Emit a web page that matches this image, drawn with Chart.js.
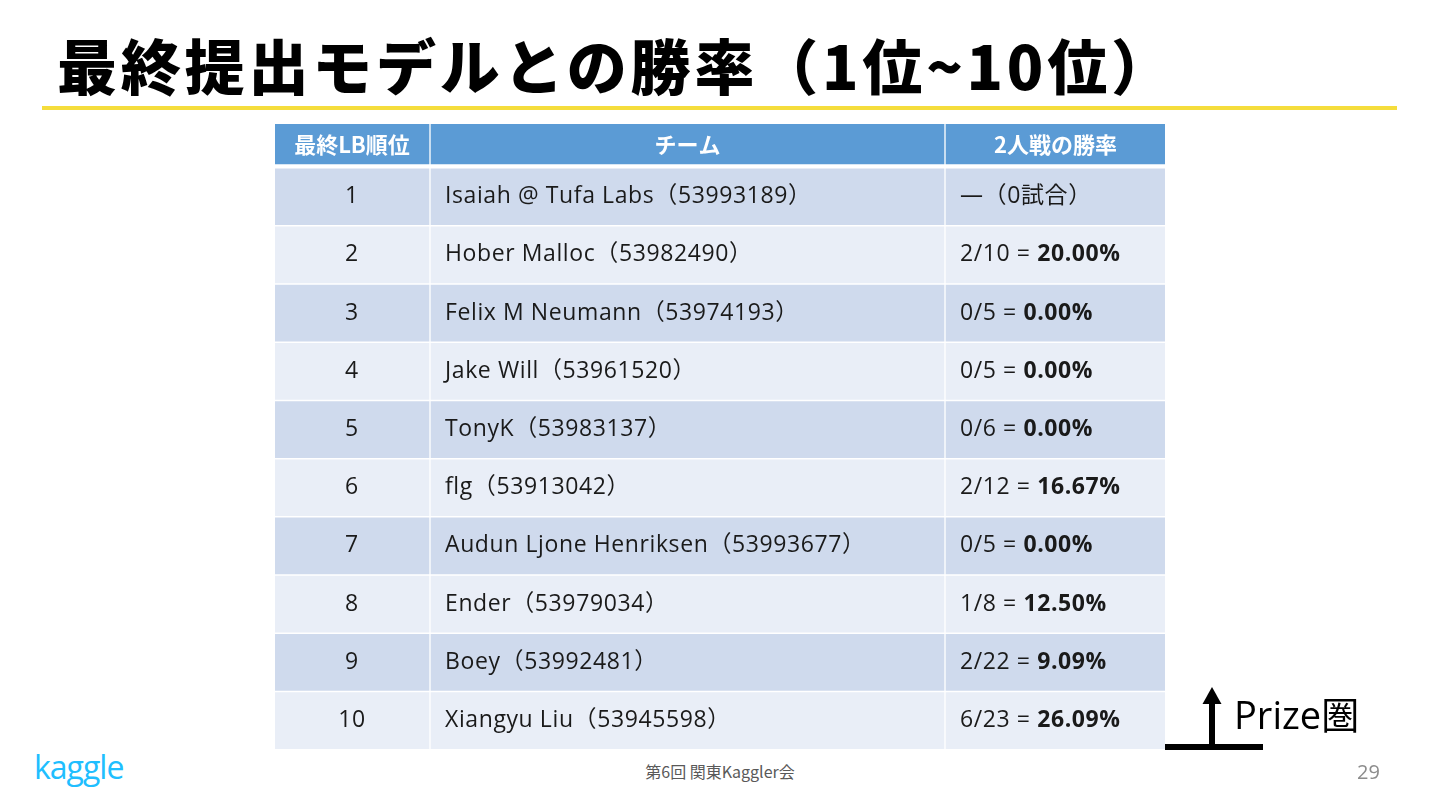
<!DOCTYPE html>
<html lang="ja">
<head>
<meta charset="utf-8">
<title>最終提出モデルとの勝率（1位~10位）</title>
<script src="https://cdn.jsdelivr.net/npm/chart.js@4.4.1/dist/chart.umd.min.js"></script>
<style>
  html, body { margin: 0; padding: 0; background: #fff; }
  body { width: 1440px; height: 810px; position: relative; overflow: hidden;
         font-family: "Open Sans", "Noto Sans CJK JP", sans-serif; }
  h1 { position: absolute; left: 57px; top: 20px; margin: 0;
       font-family: "Noto Sans CJK JP", sans-serif; font-weight: 900;
       font-size: 60px; line-height: 88px; color: #000; letter-spacing: 3.8px; white-space: nowrap; }
  .rule { position: absolute; left: 42px; top: 106px; width: 1355px; height: 4px; background: #f5dd3c; }
  .table-wrap { position: absolute; left: 275px; top: 124px; width: 890px; height: 626px; }
  .logo { position: absolute; left: 34px; top: 745px; font-family: "Open Sans", sans-serif;
          font-size: 32px; color: #20beff; letter-spacing: -1px; }
  .footer { position: absolute; left: 0; width: 1440px; top: 759px; text-align: center;
            font-size: 16px; color: #595959; font-family: "Noto Sans CJK JP", sans-serif; }
  .page { position: absolute; left: 1357px; top: 758px; font-size: 20px; color: #8c8c8c; }
  .prize { position: absolute; left: 1160px; top: 680px; }
  .prize-label { position: absolute; left: 1234px; top: 690px; font-size: 38px; color: #000;
                 font-family: "Open Sans", "Noto Sans CJK JP", sans-serif; line-height: 48px; }
</style>
</head>
<body>
<h1>最終提出モデルとの勝率（1位~10位）</h1>
<div class="rule"></div>
<div class="table-wrap"><canvas id="table" width="890" height="626"></canvas></div>
<svg class="prize" width="110" height="75" viewBox="0 0 110 75">
  <rect x="5" y="64" width="98" height="6" fill="#000"/>
  <rect x="49" y="22" width="6" height="44" fill="#000"/>
  <polygon points="52,7 42.5,24 61.5,24" fill="#000"/>
</svg>
<div class="prize-label">Prize圏</div>
<div class="logo">kaggle</div>
<div class="footer">第6回 関東Kaggler会</div>
<div class="page">29</div>

<script>
// 表の中身
const headers = ['最終LB順位', 'チーム', '2人戦の勝率'];
const ranks = [1, 2, 3, 4, 5, 6, 7, 8, 9, 10];
const teams = ['Isaiah @ Tufa Labs', 'Hober Malloc', 'Felix M Neumann', 'Jake Will', 'TonyK',
               'flg', 'Audun Ljone Henriksen', 'Ender', 'Boey', 'Xiangyu Liu'];
const submissionIds = ['53993189', '53982490', '53974193', '53961520', '53983137',
                       '53913042', '53993677', '53979034', '53992481', '53945598'];
const records = ['—（0試合）', '2/10 = ', '0/5 = ', '0/5 = ', '0/6 = ',
                 '2/12 = ', '0/5 = ', '1/8 = ', '2/22 = ', '6/23 = '];
const winRates = ['', '20.00%', '0.00%', '0.00%', '0.00%',
                  '16.67%', '0.00%', '12.50%', '9.09%', '26.09%'];

// レイアウト (px単位の列幅と行の位置)
const colWidths = [156, 515, 219];
const colGap = 2;
const headerRow = 0.094;
const colEdges = [];
let acc = 0;
colWidths.forEach((w, i) => {
  colEdges.push([acc, acc + w - (i < colWidths.length - 1 ? colGap : 0)]);
  acc += w;
});

const headerBlue = '#5b9bd5';
const rowColors = ['#cfdaed', '#e9eef7'];

const datasets = [{
  label: 'header',
  data: colEdges.map(e => ({ y: headerRow, x: e })),
  backgroundColor: headerBlue,
  barThickness: 40
}];
colEdges.forEach((e, c) => {
  datasets.push({
    label: 'col' + c,
    data: ranks.map(r => ({ y: r, x: e })),
    backgroundColor: ranks.map((r, i) => rowColors[i % 2]),
    barThickness: 56
  });
});

const bodyFont = '"Open Sans", "Noto Sans CJK JP", sans-serif';

const cellText = {
  id: 'cellText',
  afterDatasetsDraw(chart) {
    const { ctx, scales: { x, y } } = chart;
    ctx.save();
    ctx.textBaseline = 'middle';

    // 見出し
    ctx.fillStyle = '#fff';
    ctx.textAlign = 'center';
    ctx.font = 'bold 22px "Noto Sans CJK JP", sans-serif';
    headers.forEach((h, c) => {
      const cx = (x.getPixelForValue(colEdges[c][0]) + x.getPixelForValue(colEdges[c][1])) / 2;
      ctx.fillText(h, cx, y.getPixelForValue(headerRow) + 1);
    });

    ctx.letterSpacing = '0.6px';
    ranks.forEach((r, i) => {
      const cy = y.getPixelForValue(r);
      ctx.fillStyle = '#1a1a1a';
      ctx.font = '23px ' + bodyFont;
      ctx.textAlign = 'center';
      const cx = (x.getPixelForValue(colEdges[0][0]) + x.getPixelForValue(colEdges[0][1])) / 2;
      ctx.fillText(String(r), cx, cy);

      ctx.textAlign = 'left';
      ctx.fillText(teams[i] + '（' + submissionIds[i] + '）', x.getPixelForValue(colEdges[1][0]) + 14, cy);

      const x3 = x.getPixelForValue(colEdges[2][0]) + 14;
      ctx.fillText(records[i], x3, cy);
      if (winRates[i]) {
        const w = ctx.measureText(records[i]).width;
        ctx.font = 'bold 23px ' + bodyFont;
        ctx.fillText(winRates[i], x3 + w, cy);
      }
    });
    ctx.restore();
  }
};

new Chart(document.getElementById('table'), {
  type: 'bar',
  data: { datasets },
  options: {
    indexAxis: 'y',
    responsive: false,
    animation: false,
    layout: { padding: 0 },
    datasets: { bar: { grouped: false, borderWidth: 0 } },
    plugins: { legend: { display: false }, tooltip: { enabled: false } },
    scales: {
      x: { type: 'linear', display: false, min: 0, max: 890, offset: false, bounds: 'data' },
      y: { type: 'linear', display: false, reverse: true, min: -0.25, max: 10.506,
           offset: false, bounds: 'data', grace: 0 }
    }
  },
  plugins: [cellText]
});
</script>
</body>
</html>
